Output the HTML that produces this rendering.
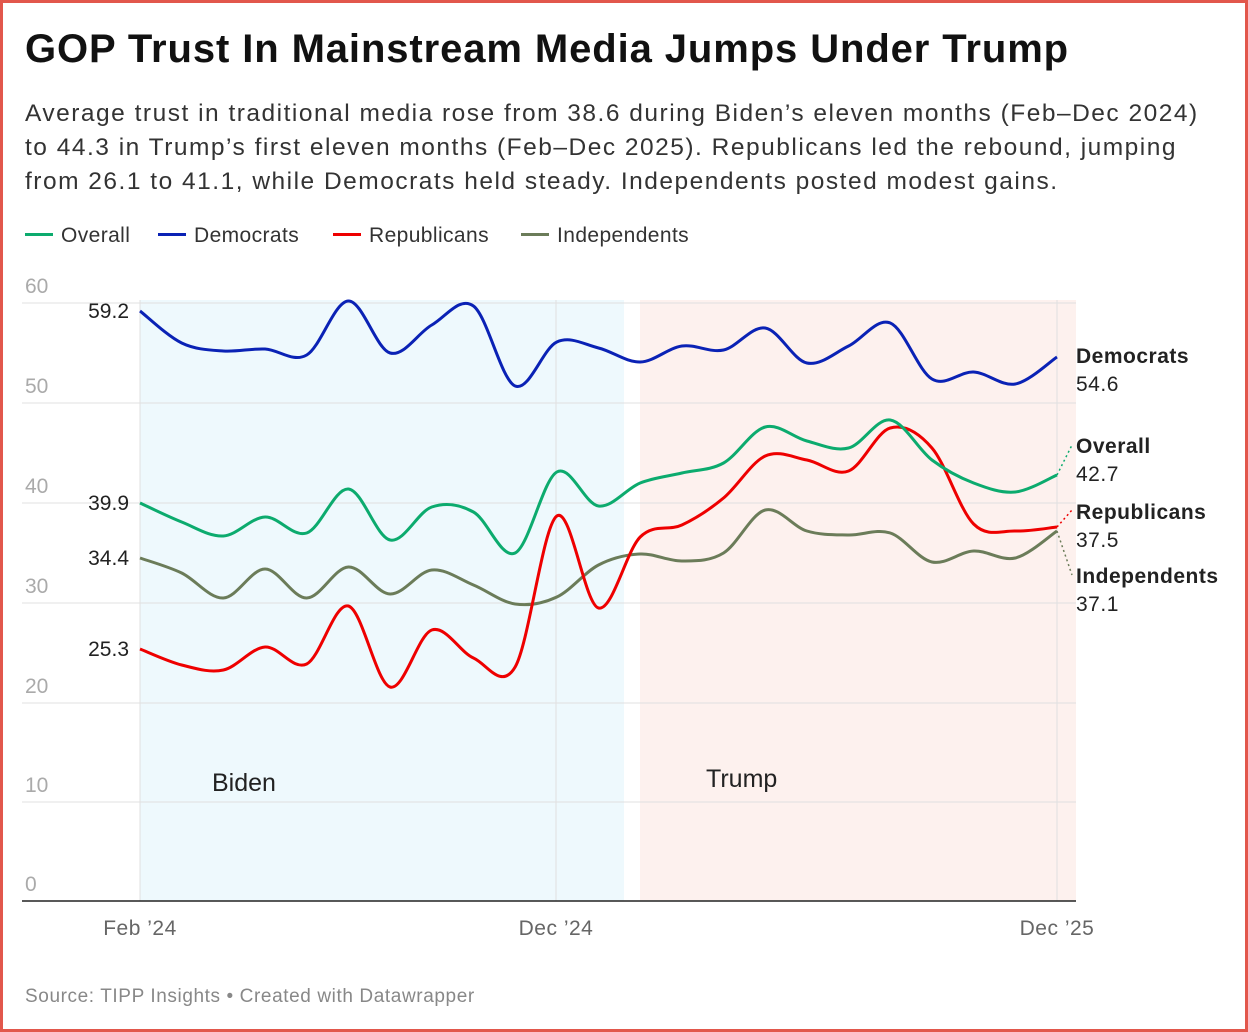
<!DOCTYPE html>
<html><head><meta charset="utf-8"><style>
body{margin:0;background:#fff;}
.wrap{position:absolute;left:0;top:0;width:1242px;height:1026px;border:3px solid #e2574c;font-family:"Liberation Sans",sans-serif;}
h1{position:absolute;left:22px;top:24px;margin:0;font-size:40px;font-weight:bold;color:#111;letter-spacing:0.9px;white-space:nowrap}
.sub{position:absolute;left:22px;top:94px;width:1220px;font-size:24.5px;line-height:34px;color:#333;letter-spacing:1.5px;white-space:nowrap}
.leg{position:absolute;top:221px;font-size:21px;color:#333;letter-spacing:0.4px}
.leg i{display:inline-block;width:28px;height:3px;vertical-align:middle;margin-right:8px;position:relative;top:-2px}
.src{position:absolute;left:22px;top:983px;font-size:19px;color:#888;letter-spacing:0.6px}
</style></head><body><div class="wrap">
<h1>GOP Trust In Mainstream Media Jumps Under Trump</h1>
<div class="sub">Average trust in traditional media rose from 38.6 during Biden’s eleven months (Feb–Dec 2024)<br>to 44.3 in Trump’s first eleven months (Feb–Dec 2025). Republicans led the rebound, jumping<br>from 26.1 to 41.1, while Democrats held steady. Independents posted modest gains.</div>
<div class="leg" style="left:22px"><i style="background:#0cab6e"></i>Overall</div>
<div class="leg" style="left:155px"><i style="background:#0a22b5"></i>Democrats</div>
<div class="leg" style="left:330px"><i style="background:#e00"></i>Republicans</div>
<div class="leg" style="left:518px"><i style="background:#6b7c59"></i>Independents</div>
<div class="src">Source: TIPP Insights • Created with Datawrapper</div>
</div>
<svg id="c" width="1248" height="1032" style="position:absolute;left:0;top:0" font-family="Liberation Sans, sans-serif">
<rect x="140" y="300" width="484" height="601" fill="#eef9fd"/>
<rect x="640" y="300" width="436" height="601" fill="#fdf1ee"/>
<g stroke="#e0e0e0" stroke-width="1">
<line x1="22" x2="1076" y1="303" y2="303"/><line x1="22" x2="1076" y1="403" y2="403"/><line x1="22" x2="1076" y1="503" y2="503"/><line x1="22" x2="1076" y1="603" y2="603"/><line x1="22" x2="1076" y1="703" y2="703"/><line x1="22" x2="1076" y1="802" y2="802"/>
<line x1="140" x2="140" y1="300" y2="901"/><line x1="556" x2="556" y1="300" y2="901"/><line x1="1057" x2="1057" y1="300" y2="901"/>
</g>
<line x1="22" x2="1076" y1="901" y2="901" stroke="#222" stroke-width="1.5"/>
<g fill="#aaa" font-size="21">
<text x="25" y="293">60</text><text x="25" y="393">50</text><text x="25" y="493">40</text><text x="25" y="593">30</text><text x="25" y="693">20</text><text x="25" y="792">10</text><text x="25" y="891">0</text>
</g>
<g fill="#666" font-size="21" text-anchor="middle" letter-spacing="0.5">
<text x="140" y="935">Feb ’24</text><text x="556" y="935">Dec ’24</text><text x="1057" y="935">Dec ’25</text>
</g>
<text x="212" y="791" font-size="25" fill="#222">Biden</text>
<text x="706" y="787" font-size="25" fill="#222">Trump</text>
<g font-size="21" fill="#222" text-anchor="end">
<text x="129" y="318">59.2</text><text x="129" y="510">39.9</text><text x="129" y="565">34.4</text><text x="129" y="656">25.3</text>
</g>
<g id="lines" fill="none" stroke-width="3"></g>
<g stroke-dasharray="2,3" stroke-width="1.5" fill="none">
<line x1="1057" y1="475" x2="1072" y2="445" stroke="#0cab6e"/>
<line x1="1057" y1="527" x2="1072" y2="510" stroke="#e00"/>
<line x1="1057" y1="531" x2="1072" y2="575" stroke="#6b7c59"/>
</g>
<g font-size="21" fill="#222" letter-spacing="0.5">
<text x="1076" y="363" font-weight="bold">Democrats</text><text x="1076" y="391">54.6</text>
<text x="1076" y="453" font-weight="bold">Overall</text><text x="1076" y="481">42.7</text>
<text x="1076" y="519" font-weight="bold">Republicans</text><text x="1076" y="547">37.5</text>
<text x="1076" y="583" font-weight="bold">Independents</text><text x="1076" y="611">37.1</text>
</g>
</svg>
<script>
var D={
"#0a22b5":[311,343,351,349,355,301,353,325,306,386,342,348,362,346,350,328,363,346,323,379,372,384,357],
"#6b7c59":[558,573,598,569,598,567,594,570,585,604,597,565,554,561,553,510,531,535,533,562,551,558,531],
"#e00":[649,665,670,647,664,606,687,630,658,667,516,608,537,525,498,456,460,471,428,448,524,531,527],
"#0cab6e":[503,522,536,517,533,489,540,507,512,553,472,506,483,473,463,427,441,448,420,460,483,492,475]};
var g=document.getElementById('lines');
for(var col in D){var ys=D[col],p=[];for(var i=0;i<ys.length;i++)p.push([140+i*(917/22),ys[i]]);
var d="M"+p[0][0]+","+p[0][1];
for(var i=0;i<p.length-1;i++){var a=p[Math.max(i-1,0)],b=p[i],c=p[i+1],e=p[Math.min(i+2,p.length-1)];
d+=" C"+(b[0]+(c[0]-a[0])/6)+","+(b[1]+(c[1]-a[1])/6)+" "+(c[0]-(e[0]-b[0])/6)+","+(c[1]-(e[1]-b[1])/6)+" "+c[0]+","+c[1];}
var pa=document.createElementNS("http://www.w3.org/2000/svg","path");pa.setAttribute("d",d);pa.setAttribute("stroke",col);g.appendChild(pa);}
</script>
</body></html>
